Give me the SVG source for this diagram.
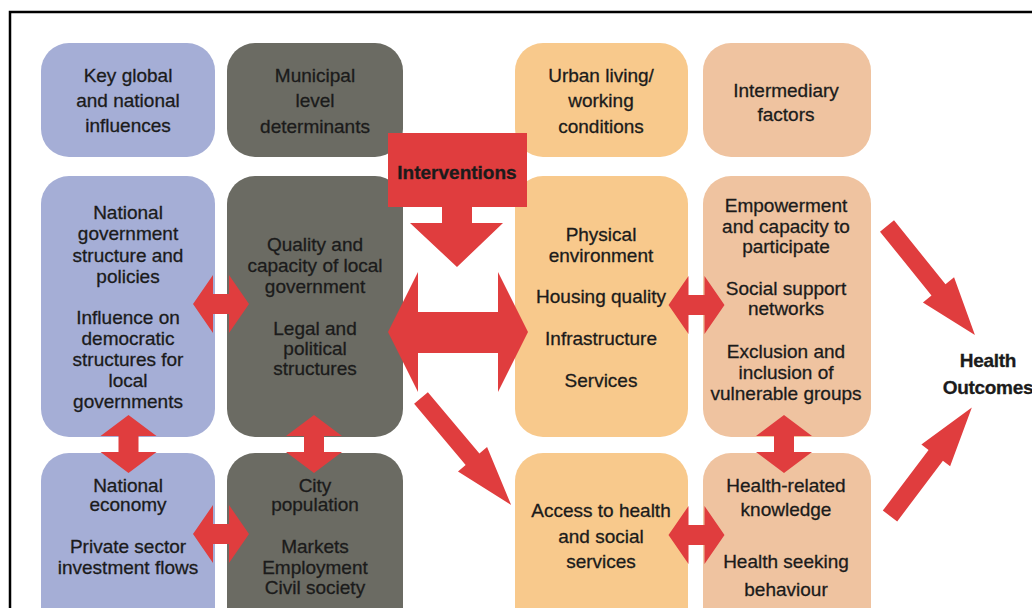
<svg xmlns="http://www.w3.org/2000/svg" xmlns:xlink="http://www.w3.org/1999/xlink" width="1032" height="608" viewBox="0 0 1032 608">
<style>
.t{font-family:"Liberation Sans",Arial,sans-serif;font-size:19px;fill:#1b1b1b;text-anchor:middle;stroke:#1b1b1b;stroke-width:0.3}
.blue{fill:#a5aed6}
.grey{fill:#6b6b63}
.orange{fill:#f8c98c}
.tan{fill:#efc3a0}
.red{fill:#e03d3e}
.b{font-weight:bold}
</style>
<defs>
<polygon id="dblH" class="red" points="-28,0 -8,-29 -8,-10 8,-10 8,-29 28,0 8,29 8,10 -8,10 -8,29"/>
<polygon id="dblV" class="red" points="0,-29 28,-8 10,-8 10,8 28,8 0,29 -28,8 -10,8 -10,-8 -28,-8"/>
</defs>
<rect x="0" y="0" width="1032" height="608" fill="#ffffff"/>
<rect x="10" y="12" width="1040" height="640" fill="none" stroke="#000" stroke-width="2.5"/>

<g id="key-global">
<rect class="blue" x="41" y="43" width="174" height="114" rx="28"/>
<text class="t" x="128" y="82">Key global</text>
<text class="t" x="128" y="107">and national</text>
<text class="t" x="128" y="132">influences</text>
</g>
<g id="municipal">
<rect class="grey" x="227" y="43" width="176" height="114" rx="28"/>
<text class="t" x="315" y="82">Municipal</text>
<text class="t" x="315" y="107">level</text>
<text class="t" x="315" y="133">determinants</text>
</g>
<g id="urban-living">
<rect class="orange" x="515" y="43" width="173" height="114" rx="28"/>
<text class="t" x="601" y="82">Urban living/</text>
<text class="t" x="601" y="107">working</text>
<text class="t" x="601" y="133">conditions</text>
</g>
<g id="intermediary">
<rect class="tan" x="703" y="43" width="168" height="114" rx="28"/>
<text class="t" x="786" y="97">Intermediary</text>
<text class="t" x="786" y="121">factors</text>
</g>

<g id="national-government">
<rect class="blue" x="41" y="176" width="174" height="261" rx="28"/>
<text class="t" x="128" y="219">National</text>
<text class="t" x="128" y="240">government</text>
<text class="t" x="128" y="262">structure and</text>
<text class="t" x="128" y="283">policies</text>
<text class="t" x="128" y="324">Influence on</text>
<text class="t" x="128" y="345">democratic</text>
<text class="t" x="128" y="366">structures for</text>
<text class="t" x="128" y="387">local</text>
<text class="t" x="128" y="408">governments</text>
</g>
<g id="local-government">
<rect class="grey" x="227" y="176" width="176" height="261" rx="28"/>
<text class="t" x="315" y="251">Quality and</text>
<text class="t" x="315" y="272">capacity of local</text>
<text class="t" x="315" y="293">government</text>
<text class="t" x="315" y="335">Legal and</text>
<text class="t" x="315" y="355">political</text>
<text class="t" x="315" y="375">structures</text>
</g>
<g id="physical-environment">
<rect class="orange" x="515" y="176" width="173" height="261" rx="28"/>
<text class="t" x="601" y="241">Physical</text>
<text class="t" x="601" y="262">environment</text>
<text class="t" x="601" y="303">Housing quality</text>
<text class="t" x="601" y="345">Infrastructure</text>
<text class="t" x="601" y="387">Services</text>
</g>
<g id="empowerment">
<rect class="tan" x="703" y="176" width="168" height="261" rx="28"/>
<text class="t" x="786" y="212">Empowerment</text>
<text class="t" x="786" y="233">and capacity to</text>
<text class="t" x="786" y="253">participate</text>
<text class="t" x="786" y="295">Social support</text>
<text class="t" x="786" y="315">networks</text>
<text class="t" x="786" y="358">Exclusion and</text>
<text class="t" x="786" y="379">inclusion of</text>
<text class="t" x="786" y="400">vulnerable groups</text>
</g>

<g id="national-economy">
<rect class="blue" x="41" y="453" width="174" height="190" rx="28"/>
<text class="t" x="128" y="492">National</text>
<text class="t" x="128" y="511">economy</text>
<text class="t" x="128" y="553">Private sector</text>
<text class="t" x="128" y="574">investment flows</text>
</g>
<g id="city-population">
<rect class="grey" x="227" y="453" width="176" height="190" rx="28"/>
<text class="t" x="315" y="492">City</text>
<text class="t" x="315" y="511">population</text>
<text class="t" x="315" y="553">Markets</text>
<text class="t" x="315" y="574">Employment</text>
<text class="t" x="315" y="594">Civil society</text>
</g>
<g id="access-services">
<rect class="orange" x="515" y="453" width="173" height="190" rx="28"/>
<text class="t" x="601" y="517">Access to health</text>
<text class="t" x="601" y="543">and social</text>
<text class="t" x="601" y="568">services</text>
</g>
<g id="health-knowledge">
<rect class="tan" x="703" y="453" width="168" height="190" rx="28"/>
<text class="t" x="786" y="492">Health-related</text>
<text class="t" x="786" y="516">knowledge</text>
<text class="t" x="786" y="568">Health seeking</text>
<text class="t" x="786" y="596">behaviour</text>
</g>

<g id="health-outcomes">
<text class="t b" x="988" y="367" font-size="18.5" letter-spacing="-0.3">Health</text>
<text class="t b" x="988" y="394" font-size="18.5" letter-spacing="-0.3">Outcomes</text>
</g>

<g id="connectors">
<use xlink:href="#dblH" x="221" y="304"/>
<use xlink:href="#dblH" x="221" y="534"/>
<use xlink:href="#dblH" x="696.5" y="305"/>
<use xlink:href="#dblH" x="696.5" y="535"/>
<use xlink:href="#dblV" x="128.5" y="444"/>
<use xlink:href="#dblV" x="314" y="444"/>
<use xlink:href="#dblV" x="784" y="444"/>
<polygon class="red" points="388,332 418,272 418,312 498,312 498,272 528,332 498,392 498,353 418,353 418,392"/>
<polygon class="red" points="442,205 472,205 472,223 503,223 457,267 410,223 442,223"/>
<polygon class="red" transform="translate(421,398) rotate(49.9)" points="0,-9 80,-9 80,-19 140,0 80,19 80,9 0,9"/>
<polygon class="red" transform="translate(887,226) rotate(51.1)" points="0,-9 82,-9 82,-20 140,0 82,20 82,9 0,9"/>
<polygon class="red" transform="translate(890,516) rotate(-53)" points="0,-9 76,-9 76,-18 136,0 76,18 76,9 0,9"/>
</g>

<g id="interventions">
<rect class="red" x="388" y="133" width="139" height="74"/>
<text class="t b" x="457" y="179" font-size="16.5" fill="#2a1414" stroke="#2a1414">Interventions</text>
</g>
</svg>
